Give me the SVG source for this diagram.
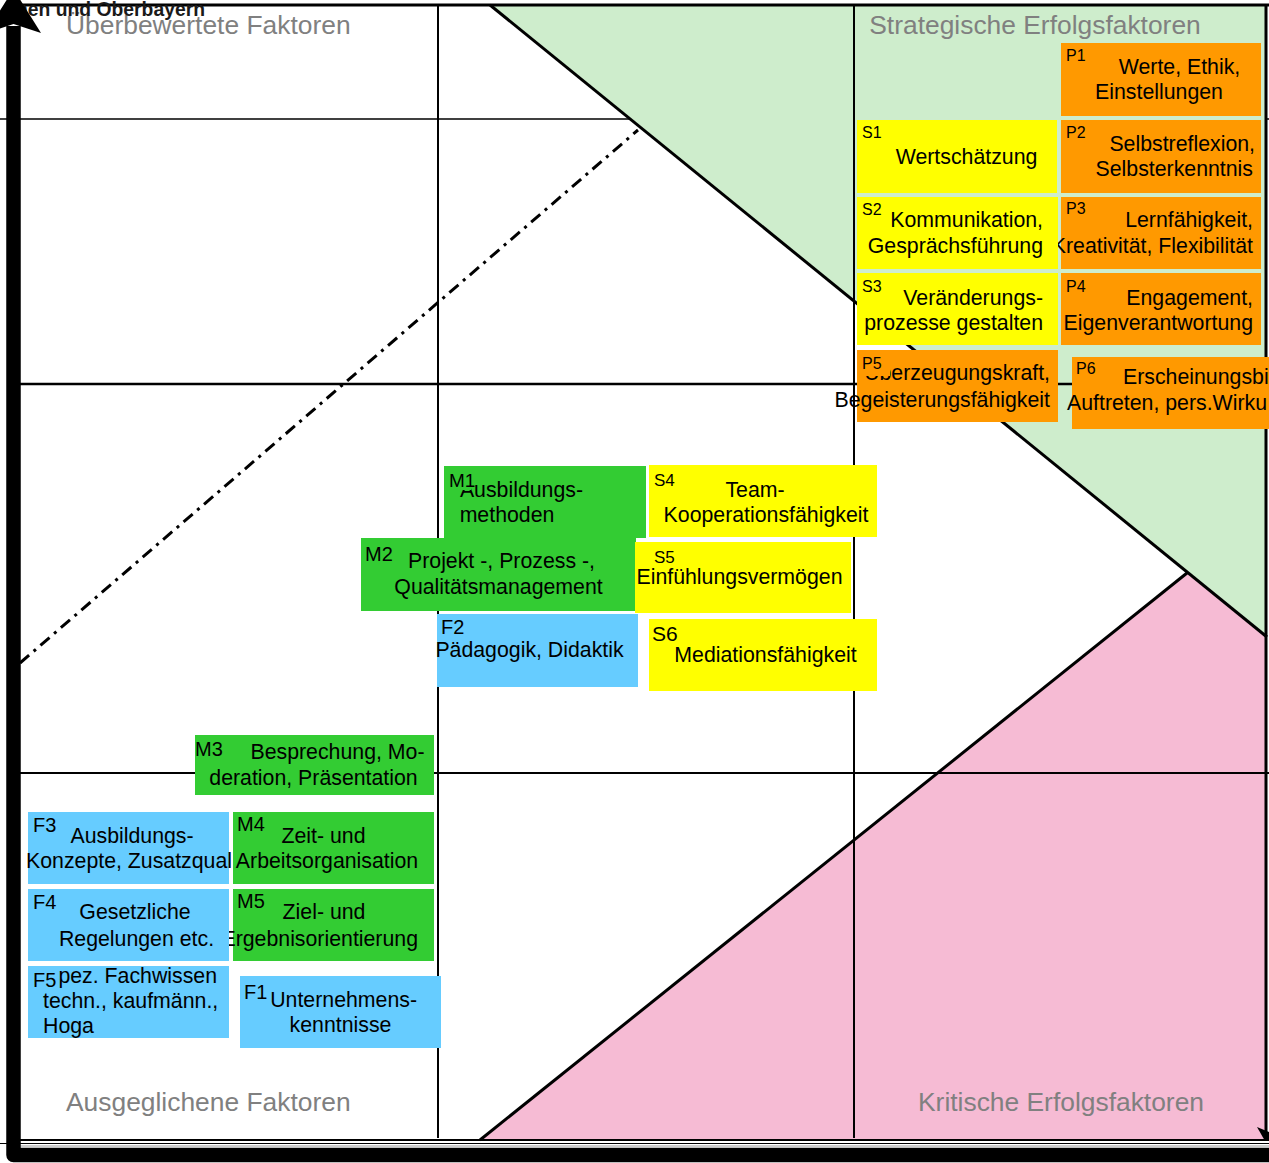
<svg xmlns="http://www.w3.org/2000/svg" width="1269" height="1163" viewBox="0 0 1269 1163">
<style>
text{font-family:"Liberation Sans",Arial,sans-serif;fill:#000}
.t{font-size:21.3px}
.m{text-anchor:middle}
.e{text-anchor:end}
.lb{font-size:16px}
.lm{font-size:20px}
.q{font-size:26.4px;fill:#808080}
.or{fill:#FF9900}
.ye{fill:#FFFF00}
.gr{fill:#33CC33}
.bl{fill:#66CCFF}
.ln{stroke:#000;fill:none}
</style>
<rect x="0" y="0" width="1269" height="1163" fill="#fff"/>
<g id="background">
<line class="ln" x1="0" y1="119" x2="1269" y2="119" stroke-width="1.5"/>
<polygon points="490,5 1266,5 1266,637" fill="#CEEDCC"/>
<polygon points="480,1140 1187,573 1266,637 1266,1140" fill="#F6BBD4"/>
<line class="ln" x1="438" y1="5" x2="438" y2="1138" stroke-width="2"/>
<line class="ln" x1="854" y1="5" x2="854" y2="1138" stroke-width="2"/>
<line class="ln" x1="20" y1="384" x2="1269" y2="384" stroke-width="2.5"/>
<line class="ln" x1="20" y1="773" x2="1269" y2="773" stroke-width="2"/>
<line class="ln" x1="490" y1="5" x2="1267" y2="637" stroke-width="3"/>
<line class="ln" x1="480" y1="1140" x2="1187" y2="573" stroke-width="3"/>
<line class="ln" x1="20" y1="663" x2="638" y2="130" stroke-width="3" stroke-dasharray="12 6 3 6"/>
<line class="ln" x1="20" y1="5" x2="1269" y2="5" stroke-width="3"/>
<line class="ln" x1="1266" y1="5" x2="1266" y2="1141" stroke-width="3"/>
<line class="ln" x1="20" y1="1140" x2="1269" y2="1140" stroke-width="2"/>
<line class="ln" x1="0" y1="1143.5" x2="1269" y2="1143.5" stroke-width="1"/>
<line x1="18" y1="1146" x2="1269" y2="1146" stroke="#999" stroke-width="1"/>
<text class="q" x="66" y="34">Überbewertete Faktoren</text>
<text class="q m" x="1035" y="34">Strategische Erfolgsfaktoren</text>
<text class="q" x="66" y="1111">Ausgeglichene Faktoren</text>
<text class="q m" x="1061" y="1111">Kritische Erfolgsfaktoren</text>
</g>
<g id="P1"><rect class="or" x="1061" y="43" width="200" height="73"/><text class="lb" x="1066" y="61">P1</text><text class="t m" x="1179.5" y="74">Werte, Ethik,</text><text class="t m" x="1159" y="99">Einstellungen</text></g>
<g id="S1"><rect class="ye" x="857" y="120" width="200" height="73"/><text class="lb" x="862" y="138">S1</text><text class="t m" x="966.5" y="164">Wertschätzung</text></g>
<g id="P2"><rect class="or" x="1061" y="120" width="200" height="73"/><text class="lb" x="1066" y="138">P2</text><text class="t e" x="1255" y="151">Selbstreflexion,</text><text class="t e" x="1253" y="176">Selbsterkenntnis</text></g>
<g id="P3"><rect class="or" x="1061" y="197" width="200" height="72"/><text class="lb" x="1066" y="214">P3</text><text class="t e" x="1253" y="227">Lernfähigkeit,</text><text class="t e" x="1253" y="253">Kreativität, Flexibilität</text></g>
<g id="S2"><rect class="ye" x="857" y="197" width="201" height="72"/><text class="lb" x="862" y="215">S2</text><text class="t e" x="1043" y="227">Kommunikation,</text><text class="t e" x="1043" y="253">Gesprächsführung</text></g>
<g id="S3"><rect class="ye" x="857" y="273" width="201" height="72"/><text class="lb" x="862" y="292">S3</text><text class="t e" x="1043" y="305">Veränderungs-</text><text class="t e" x="1043" y="330">prozesse gestalten</text></g>
<g id="P4"><rect class="or" x="1061" y="273" width="200" height="72"/><text class="lb" x="1066" y="292">P4</text><text class="t e" x="1253" y="305">Engagement,</text><text class="t e" x="1253" y="330">Eigenverantwortung</text></g>
<g id="P5"><rect class="or" x="857" y="350" width="201" height="72"/><text class="t e" x="1050" y="380">Überzeugungskraft,</text><text class="t e" x="1050" y="407">Begeisterungsfähigkeit</text><rect class="or" x="857" y="350" width="33" height="26"/><text class="lb" x="862" y="369">P5</text></g>
<g id="P6"><rect class="or" x="1072" y="357" width="200" height="72"/><text class="lb" x="1076" y="374">P6</text><text class="t" x="1123" y="384">Erscheinungsbi</text><text class="t" x="1067" y="410">Auftreten, pers.Wirku</text></g>
<g id="S4"><rect class="ye" x="649" y="465" width="228" height="72"/><text x="654" y="486" style="font-size:17px">S4</text><text class="t m" x="755" y="497">Team-</text><text class="t m" x="766" y="522">Kooperationsfähigkeit</text></g>
<g id="M1"><rect class="gr" x="444" y="466" width="202" height="72"/><text class="t e" x="583" y="497">Ausbildungs-</text><text class="t m" x="507" y="522">methoden</text><rect class="gr" x="444" y="466" width="27" height="24"/><text x="449" y="487" style="font-size:19px">M1</text></g>
<g id="M2"><rect class="gr" x="361" y="538" width="275" height="73"/><text class="lm" x="365" y="561">M2</text><text class="t m" x="501.5" y="568">Projekt -, Prozess -,</text><text class="t m" x="498.5" y="594">Qualitätsmanagement</text></g>
<g id="S5"><rect class="ye" x="635" y="542" width="216" height="71"/><text x="654" y="563" style="font-size:17px">S5</text><text class="t m" x="739.5" y="584">Einfühlungsvermögen</text></g>
<g id="F2"><rect class="bl" x="437" y="614" width="201" height="73"/><text class="lm" x="441" y="634">F2</text><text class="t m" x="529.5" y="657">Pädagogik, Didaktik</text></g>
<g id="S6"><rect class="ye" x="649" y="619" width="228" height="72"/><text x="652" y="641" style="font-size:21px">S6</text><text class="t m" x="765.5" y="662">Mediationsfähigkeit</text></g>
<g id="M3"><rect class="gr" x="195" y="735" width="239" height="60"/><text class="lm" x="195" y="756">M3</text><text class="t m" x="337.5" y="759">Besprechung, Mo-</text><text class="t m" x="313.5" y="785">deration, Präsentation</text></g>
<g id="F3"><rect class="bl" x="28" y="812" width="201" height="72"/><text class="lm" x="33" y="832">F3</text><text class="t m" x="132" y="843">Ausbildungs-</text><text class="t" x="26" y="868">Konzepte, Zusatzqual</text></g>
<g id="M4"><rect class="gr" x="233" y="812" width="201" height="72"/><text class="lm" x="237" y="831">M4</text><text class="t m" x="323.5" y="843">Zeit- und</text><text class="t m" x="327" y="868">Arbeitsorganisation</text></g>
<g id="M5"><rect class="gr" x="233" y="889" width="201" height="72"/><text class="lm" x="237" y="908">M5</text><text class="t m" x="324" y="919">Ziel- und</text><text class="t e" x="418" y="946">Ergebnisorientierung</text></g>
<g id="F4"><rect class="bl" x="28" y="889" width="201" height="72"/><text class="lm" x="33" y="909">F4</text><text class="t m" x="135" y="919">Gesetzliche</text><text class="t m" x="136.5" y="946">Regelungen etc.</text></g>
<g id="F5"><rect class="bl" x="28" y="966" width="201" height="72"/><text class="t e" x="217" y="983">Spez. Fachwissen</text><text class="t" x="43" y="1008">techn., kaufmänn.,</text><text class="t" x="43" y="1033">Hoga</text><rect class="bl" x="28" y="966" width="30" height="24"/><text class="lm" x="33" y="987">F5</text></g>
<g id="F1"><rect class="bl" x="240" y="976" width="201" height="72"/><text class="t e" x="417" y="1007">Unternehmens-</text><text class="t m" x="340.5" y="1032">kenntnisse</text><rect class="bl" x="240" y="976" width="31" height="24"/><text class="lm" x="244" y="999">F1</text></g>
<g id="connectors">
<text x="16" y="16" style="font-size:21px;font-weight:bold;fill:#1a1a1a" textLength="189" lengthAdjust="spacingAndGlyphs">hen und Oberbayern</text>
<path d="M13.5,26 L13.5,1155 L1269,1155" fill="none" stroke="#000" stroke-width="14.5" stroke-linejoin="round"/>
<polygon points="13.5,-11 41,33 13.5,24 -14,33" fill="#000"/>
<polygon points="1257,1127 1269,1132 1269,1141 1265,1141" fill="#000"/>
</g>
</svg>
